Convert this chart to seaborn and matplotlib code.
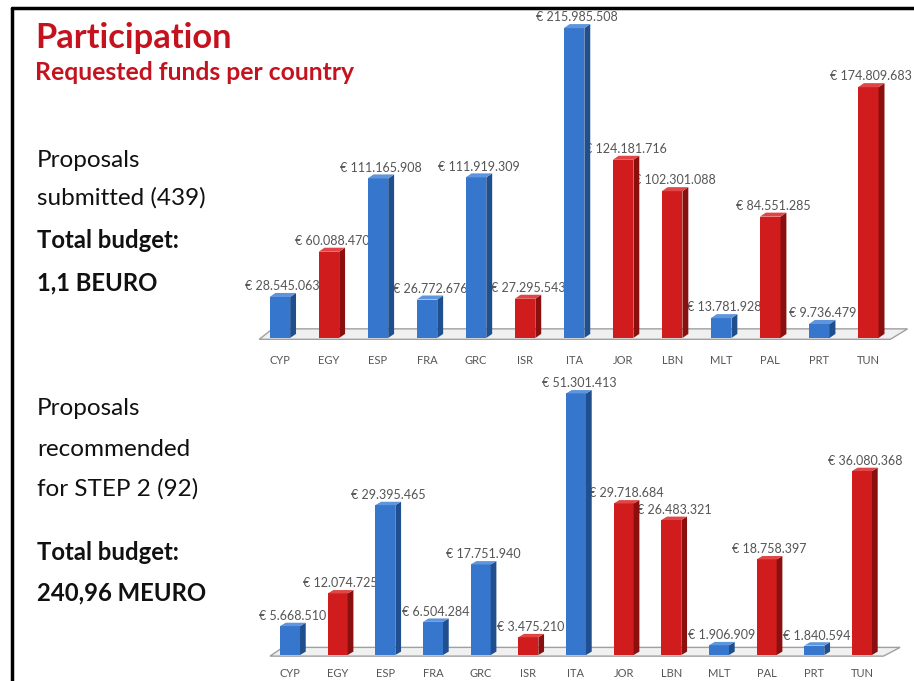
import pandas as pd
import matplotlib.pyplot as plt
import seaborn as sns
from matplotlib.patches import Polygon
from matplotlib.lines import Line2D

countries = ['CYP', 'EGY', 'ESP', 'FRA', 'GRC', 'ISR', 'ITA', 'JOR', 'LBN', 'MLT', 'PAL', 'PRT', 'TUN']
group = ['EU', 'MPC', 'EU', 'EU', 'EU', 'MPC', 'EU', 'MPC', 'MPC', 'EU', 'MPC', 'EU', 'MPC']
submitted = [28545063, 60088470, 111165908, 26772676, 111919309, 27295543, 215985508,
             124181716, 102301088, 13781928, 84551285, 9736479, 174809683]
recommended = [5668510, 12074725, 29395465, 6504284, 17751940, 3475210, 51301413,
               29718684, 26483321, 1906909, 18758397, 1840594, 36080368]

front = {'EU': '#3676cc', 'MPC': '#d01c1c'}
side = {'EU': '#1f4f8e', 'MPC': '#8a0f0f'}
top = {'EU': '#5e95dc', 'MPC': '#e04646'}
red_title = '#c4131f'

sns.set_style('white')
plt.rcParams['font.family'] = ['Lato', 'DejaVu Sans']

fig = plt.figure(figsize=(9.14, 6.81), dpi=100)


def euro(v):
    return '€ ' + f'{v:,}'.replace(',', '.')


def bar3d(ax, values, ylim, pad):
    df = pd.DataFrame({'country': countries, 'value': values, 'group': group})
    sns.barplot(data=df, x='country', y='value', hue='group', palette=front,
                saturation=1, width=0.42, dodge=False, legend=False, ax=ax,
                zorder=2, edgecolor='none')
    ax.set_xlim(-0.65, 12.85)
    ax.set_ylim(*ylim)
    span = ylim[1] - ylim[0]
    dx, dy = 0.12, 0.012 * span

    # floor slab behind the bars
    floor = Polygon([(-0.42, -0.004 * span), (12.45, -0.004 * span),
                     (12.8, 0.027 * span), (-0.15, 0.027 * span)],
                    closed=True, facecolor='#f0f0f0', edgecolor='#a0a0a0',
                    lw=1.0, zorder=0.3)
    ax.add_patch(floor)

    for p in list(ax.patches):
        if p is floor or p.get_height() <= 0:
            continue
        x, w, h = p.get_x(), p.get_width(), p.get_height()
        g = group[int(round(x + w / 2))]
        ax.add_patch(Polygon([(x + w, 0), (x + w + dx, dy), (x + w + dx, h + dy), (x + w, h)],
                             closed=True, facecolor=side[g], edgecolor='none', zorder=2))
        ax.add_patch(Polygon([(x, h), (x + w, h), (x + w + dx, h + dy), (x + dx, h + dy)],
                             closed=True, facecolor=top[g], edgecolor='none', zorder=2))

    for i, v in enumerate(values):
        ax.annotate(euro(v), (i + 0.06, v + dy), xytext=(0, 0.5), textcoords='offset points',
                    ha='center', va='bottom', fontsize=9, color='#555555', zorder=1,
                    annotation_clip=False)

    sns.despine(ax=ax, left=True, bottom=True)
    ax.set_yticks([])
    ax.set_xlabel('')
    ax.set_ylabel('')
    ax.tick_params(axis='x', length=0, pad=pad, labelsize=8, labelcolor='#555555')
    ax.set_facecolor('none')


ax1 = fig.add_axes([0.2713, 0.489, 0.7243, 0.495])
bar3d(ax1, submitted, (-7e6, 228e6), 5)

ax2 = fig.add_axes([0.2834, 0.0247, 0.704, 0.414])
bar3d(ax2, recommended, (-1.8e6, 53.5e6), 3)


# slide text
def ftext(x, y, s, **kw):
    fig.text(x / 914, 1 - y / 681, s, va='baseline', ha='left', **kw)


ftext(35, 48, 'Participation', fontsize=24.8, fontweight='bold', color=red_title)
ftext(35, 80, 'Requested funds per country', fontsize=17.8, fontweight='bold', color=red_title)

ftext(37, 167, 'Proposals', fontsize=17.5, color='#111111')
ftext(37, 205, 'submitted (439)', fontsize=17.5, color='#111111')
ftext(37, 248, 'Total budget:', fontsize=17.2, fontweight='bold', color='#111111')
ftext(37, 290, '1,1 BEURO', fontsize=17.2, fontweight='bold', color='#111111')

ftext(37, 415, 'Proposals', fontsize=17.5, color='#111111')
ftext(37, 456, 'recommended', fontsize=17.5, color='#111111')
ftext(37, 496, 'for STEP 2 (92)', fontsize=17.5, color='#111111')
ftext(37, 560, 'Total budget:', fontsize=17.2, fontweight='bold', color='#111111')
ftext(37, 600, '240,96 MEURO', fontsize=17.2, fontweight='bold', color='#111111')

# slide frame
fig.add_artist(Line2D([12 / 914, 1], [1 - 8 / 681, 1 - 8 / 681], color='black', lw=2.5))
fig.add_artist(Line2D([12 / 914, 12 / 914], [0, 1 - 8 / 681], color='black', lw=2.5))

fig.savefig('out.png', dpi=100)
